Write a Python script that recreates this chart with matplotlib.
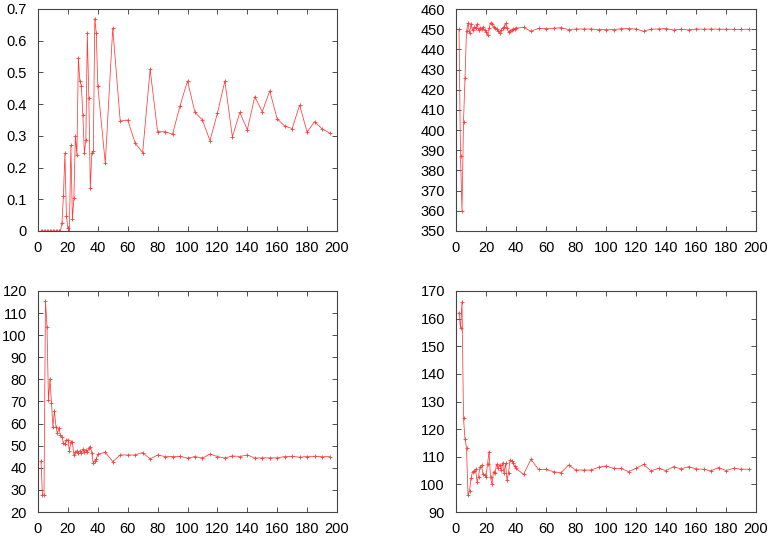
import numpy as np
import matplotlib
matplotlib.use("Agg")
import matplotlib.pyplot as plt

# x positions: dense part then every 5
x_dense = list(range(2, 41))
x_sparse = list(range(45, 200, 5))
x = np.array(x_dense + x_sparse)

# panel 1 (top left)
a_dense = [0.0] * 14 + [0.024, 0.11, 0.245, 0.047, 0.008, 0.0, 0.27, 0.037, 0.103, 0.30,
                        0.24, 0.545, 0.473, 0.458, 0.365, 0.246, 0.287, 0.623, 0.42, 0.135,
                        0.246, 0.252, 0.67, 0.623, 0.457]
a_sparse = [0.214, 0.639, 0.347, 0.350, 0.277, 0.247, 0.510, 0.313, 0.313, 0.305, 0.395,
            0.473, 0.374, 0.350, 0.285, 0.371, 0.473, 0.297, 0.374, 0.319, 0.424, 0.376,
            0.442, 0.353, 0.331, 0.323, 0.397, 0.312, 0.345, 0.322, 0.309]

# panel 2 (top right)
b_dense = [450, 387, 360, 404, 426, 449, 453, 448, 452.5, 449.5, 451, 450.4, 452.5, 449.7,
           450.8, 450, 451.2, 449.6, 448.7, 447.1, 450.4, 453.2, 452.5, 451.2, 450.4, 449.9,
           449.2, 448.2, 449.6, 450.4, 451.2, 452.9, 450.4, 448.7, 449.2, 449.6, 449.9, 450.2,
           450.5]
b_sparse = [450.9, 449, 450.4, 450.3, 450.4, 450.8, 449.8, 450.1, 450.1, 450.1, 449.8, 449.8,
            449.8, 450.2, 450.3, 450.1, 449, 450, 450.1, 450.3, 449.6, 450, 449.6, 450.1, 450,
            450.1, 450, 450, 449.9, 449.9, 450]

# panel 3 (bottom left)
c_dense = [43.1, 27.5, 27.5, 115.6, 103.9, 70.7, 80.2, 69.5, 58.6, 65.7, 58.6, 55.6, 57.9,
           54.8, 54.1, 51.1, 50.8, 52.6, 52.6, 47.7, 51.8, 51.5, 45.8, 47, 47.7, 46.9, 47.7,
           46.9, 48.4, 47, 48, 47.3, 48.8, 49.6, 46.6, 42, 43.2, 44, 46.2]
c_sparse = [47, 42.8, 45.8, 45.8, 45.8, 46.9, 44, 45.8, 45.1, 45.1, 45.2, 44.4, 45.1, 44.4,
            46.2, 45.1, 44.4, 45.4, 45.1, 45.8, 44.4, 44.5, 44.5, 44.5, 45.1, 45.2, 44.8,
            45.1, 45.2, 45.0, 45.1]

# panel 4 (bottom right)
d_dense = [162.2, 156.5, 166.1, 123.9, 116.3, 113.3, 96.2, 97.6, 102.2, 104.6, 104.8, 105.6,
           101, 102.8, 106.4, 107, 103.6, 103.3, 102.8, 107.2, 111.8, 102.5, 100.1, 104.6, 104,
           107.2, 105.8, 107, 105.2, 107.8, 104, 107.6, 101.6, 104.2, 108.8, 108.6, 107.8,
           106.7, 105.8]
d_sparse = [103.6, 109.1, 105.4, 105.4, 104.6, 104.2, 107, 105.2, 105.2, 105.2, 106.2, 106.7,
            105.8, 105.8, 104.6, 105.8, 107.2, 104.9, 105.8, 105.0, 106.4, 105.6, 106.4, 105.6,
            105.5, 104.9, 106.1, 105.0, 105.8, 105.5, 105.5]

series = [a_dense + a_sparse, b_dense + b_sparse, c_dense + c_sparse, d_dense + d_sparse]
ylims = [(0, 0.7), (350, 460), (20, 120), (90, 170)]
ysteps = [0.1, 10, 10, 10]

W, H = 773, 538
boxes = [(38, 9, 337, 231), (456, 9, 756, 231), (38, 291, 337, 512), (456, 291, 756, 512)]

plt.rcParams['font.family'] = ['Liberation Sans', 'DejaVu Sans']
fig = plt.figure(figsize=(W / 100, H / 100), dpi=100)

for i in range(4):
    l, t, r, b = boxes[i]
    ax = fig.add_axes([l / W, 1 - b / H, (r - l) / W, (b - t) / H])
    ax.plot(x, series[i], color='#ff3a3a', lw=0.55, marker='+', ms=3, mew=0.6)
    ax.set_xlim(0, 200)
    ax.set_ylim(*ylims[i])
    ax.set_xticks(np.arange(0, 201, 20))
    yt = np.arange(ylims[i][0], ylims[i][1] + ysteps[i] / 2, ysteps[i])
    ax.set_yticks(yt)
    if i == 0:
        ax.set_yticklabels(["0" if v == 0 else "{:g}".format(round(v, 1)) for v in yt])
    ax.tick_params(direction='in', length=3.5, width=0.6, top=True, right=True,
                   labelsize=10.5, colors='#333333', labelcolor='black')
    ax.tick_params(axis='x', pad=7)
    ax.tick_params(axis='y', pad=8)
    for s in ax.spines.values():
        s.set_linewidth(0.8)
        s.set_color('#444444')

plt.savefig('out.png', dpi=100)
